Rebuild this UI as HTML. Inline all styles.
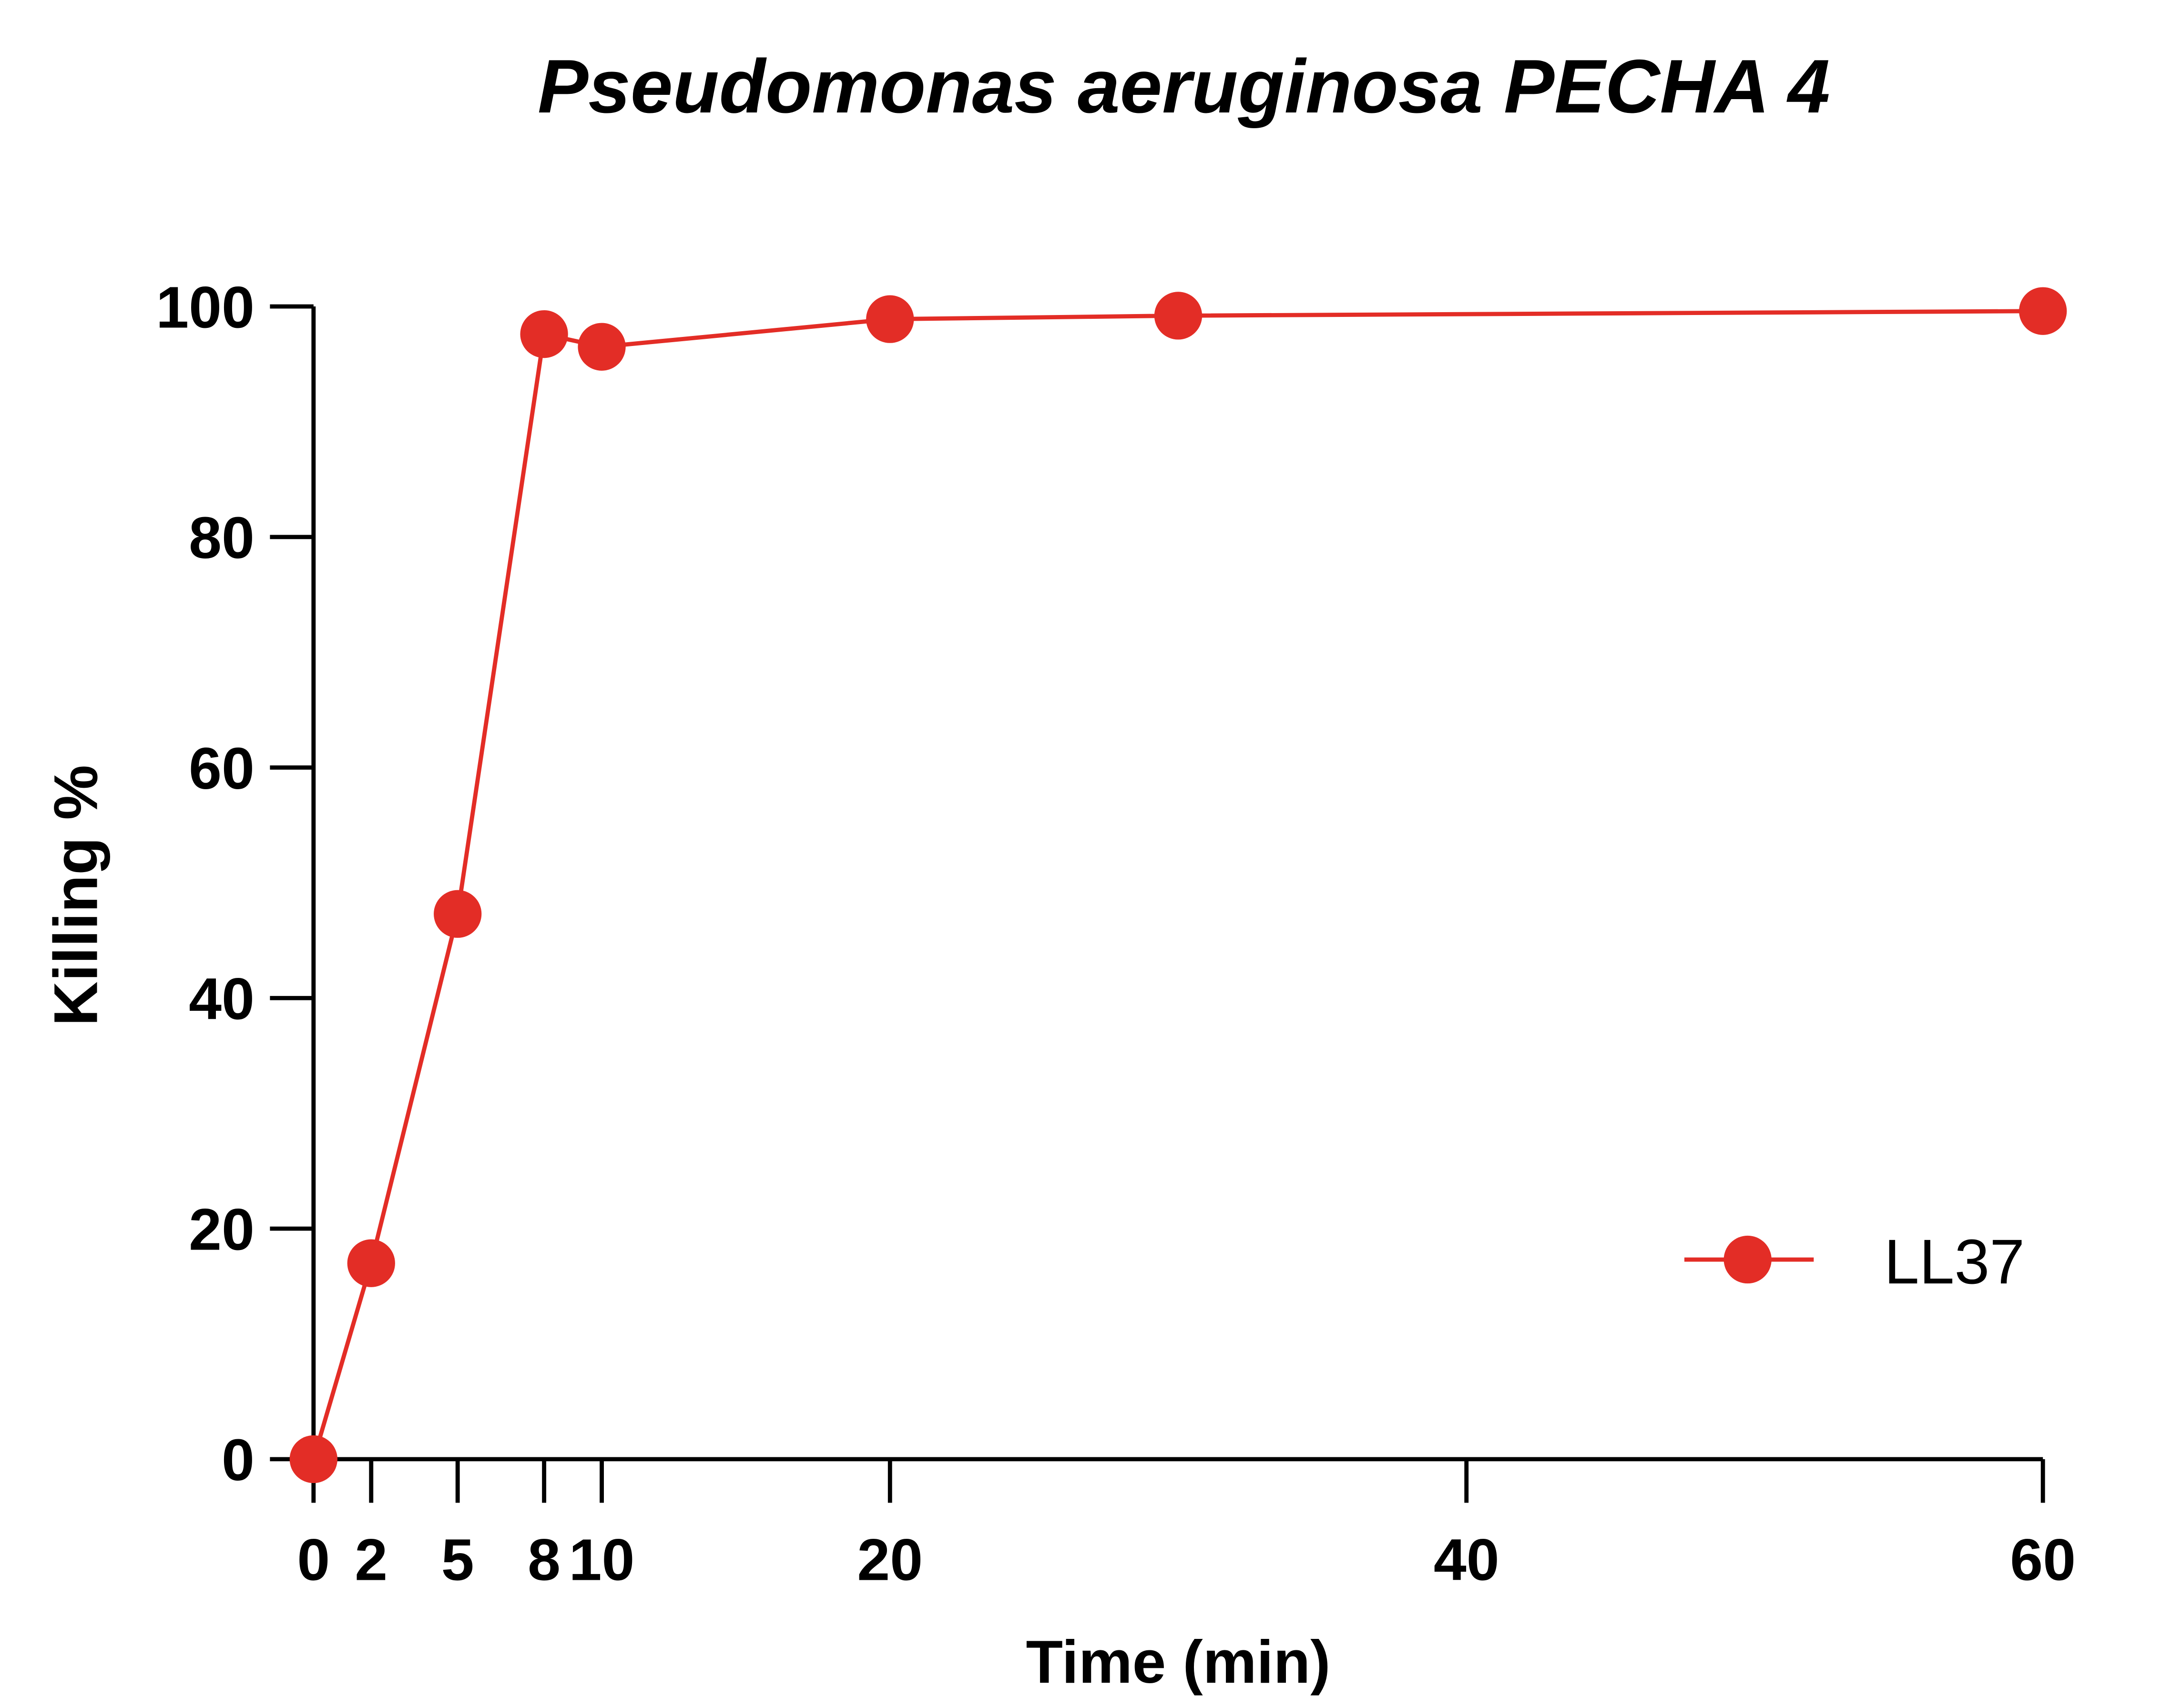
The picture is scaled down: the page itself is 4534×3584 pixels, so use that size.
<!DOCTYPE html>
<html><head><meta charset="utf-8"><style>html,body{margin:0;padding:0;background:#fff}svg{display:block}</style></head>
<body>
<svg id="chart" width="4534" height="3584" viewBox="0 0 1537 1215" preserveAspectRatio="none" xmlns="http://www.w3.org/2000/svg" font-family="Liberation Sans, sans-serif">
<rect width="1537" height="1215" fill="#fff"/>
<text x="842" y="80" text-anchor="middle" font-size="54" font-weight="bold" font-style="italic">Pseudomonas aeruginosa PECHA 4</text>
<text transform="translate(69,637) rotate(-90)" text-anchor="middle" font-size="44" font-weight="bold">Killing %</text>
<text x="838" y="1197" text-anchor="middle" font-size="43" font-weight="bold">Time (min)</text>
<g id="axes"></g>
<g id="series"></g>
<g>
<line x1="1198" y1="896" x2="1290" y2="896" stroke="#e32d26" stroke-width="3"/>
<circle cx="1243" cy="896" r="17" fill="#e32d26"/>
<text x="1340" y="913" font-size="45">LL37</text>
</g>
</svg>
<script>
const times = [0, 2, 5, 8, 10, 20, 30, 60];
const killing = [0, 17, 47.3, 97.6, 96.5, 98.9, 99.2, 99.6];
const xTicks = [0, 2, 5, 8, 10, 20, 40, 60];
const yTicks = [0, 20, 40, 60, 80, 100];
const NS = "http://www.w3.org/2000/svg";
const x = v => 223 + v * (1453 - 223) / 60;
const y = v => 1038 - v * (1038 - 218) / 100;
function mk(tag, attrs, parent) { const e = document.createElementNS(NS, tag); for (const k in attrs) e.setAttribute(k, attrs[k]); parent.appendChild(e); return e; }
const axes = document.getElementById('axes');
let a = mk('line', {x1: x(0), y1: y(0), x2: x(0), y2: y(100), stroke: '#000', 'stroke-width': 3}, axes);


a = mk('line', {x1: x(0) - 1.5, y1: y(0), x2: x(60), y2: y(0), stroke: '#000', 'stroke-width': 3}, axes);


yTicks.forEach(t => {
  const l = mk('line', {x1: x(0) - 31, y1: y(t), x2: x(0), y2: y(t), stroke: '#000', 'stroke-width': 3}, axes);
  
  
  const tx = mk('text', {x: x(0) - 42, y: y(t) + 15, 'text-anchor': 'end', 'font-size': 42, 'font-weight': 'bold'}, axes);
  tx.textContent = t;
  
  
});
xTicks.forEach(t => {
  const l = mk('line', {x1: x(t), y1: y(0), x2: x(t), y2: y(0) + 31, stroke: '#000', 'stroke-width': 3}, axes);
  
  
  const tx = mk('text', {x: x(t), y: 1124, 'text-anchor': 'middle', 'font-size': 42, 'font-weight': 'bold'}, axes);
  tx.textContent = t;
  
  
});
const s = document.getElementById('series');
const pl = mk('polyline', {points: times.map((t, i) => x(t) + ',' + y(killing[i])).join(' '), fill: 'none', stroke: '#e32d26', 'stroke-width': 3}, s);


times.forEach((t, i) => {
  const c = mk('circle', {cx: x(t), cy: y(killing[i]), r: 17, fill: '#e32d26'}, s);
  
  
});
</script>
</body></html>
